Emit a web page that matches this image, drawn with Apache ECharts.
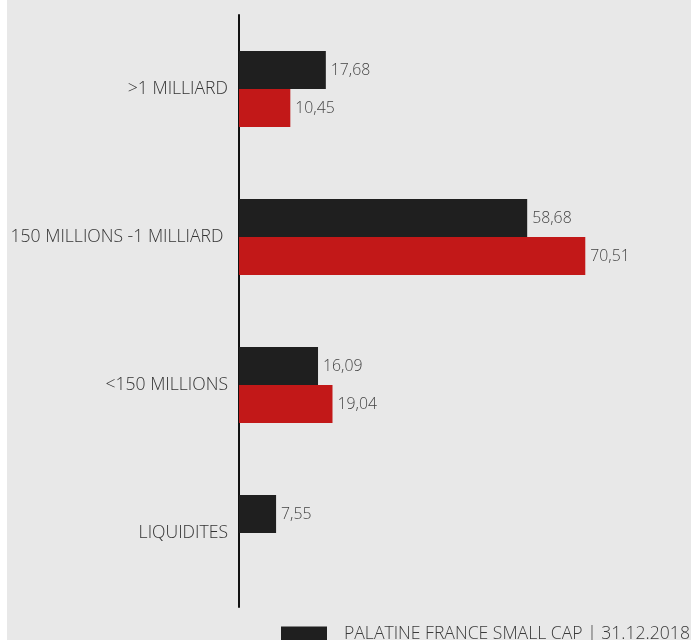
<!DOCTYPE html>
<html><head><meta charset="utf-8">
<script src="https://cdn.jsdelivr.net/npm/echarts@6/dist/echarts.min.js"></script>
<style>html,body{margin:0;padding:0;background:#fff;overflow:hidden;}#c{position:absolute;left:7px;top:0;width:684px;height:640px;}</style>
</head><body><div id="c"></div>
<script>
const categories = ['>1 MILLIARD', '150 MILLIONS -1 MILLIARD ', '<150 MILLIONS', 'LIQUIDITES'];
const fundName = 'PALATINE FRANCE SMALL CAP | 31.12.2018';
const fundValues = [17.68, 58.68, 16.09, 7.55];
const benchName = 'INDICE DE RÉFÉRENCE | 31.12.2018';
const benchValues = [10.45, 70.51, 19.04, null];

const chart = echarts.init(document.getElementById('c'));
const fmt = p => p.value == null ? '' : p.value.toFixed(2).replace('.', ',');
const font = '"Open Sans", sans-serif';
chart.setOption({
  backgroundColor: '#e8e8e8',
  animation: false,
  textStyle: {fontFamily: font},
  grid: {left: 232, right: 10, top: 15, bottom: 33, containLabel: false},
  legend: {
    left: 274, top: 625, width: 400, padding: 0,
    itemWidth: 46, itemHeight: 15, itemGap: 30,
    icon: 'rect',
    textStyle: {fontFamily: font, fontSize: 17.6, fontWeight: 300, color: '#3a3a3a', padding: [0, 0, 0, 12]},
    data: [fundName, benchName]
  },
  xAxis: {type: 'value', min: 0, max: 90, show: false},
  yAxis: {
    type: 'category', data: categories, inverse: true,
    axisLine: {show: true, lineStyle: {color: '#111', width: 2}},
    axisTick: {show: false},
    axisLabel: {fontFamily: font, fontSize: 17.6, fontWeight: 300, color: '#333', margin: 11}
  },
  series: [
    {name: fundName, type: 'bar', data: fundValues, barWidth: 38, barGap: '0%',
     itemStyle: {color: '#1f1f1f'},
     label: {show: true, position: 'right', distance: 5, formatter: fmt, fontFamily: font, fontSize: 15.8, fontWeight: 300, color: '#444'}},
    {name: benchName, type: 'bar', data: benchValues, barWidth: 38, barGap: '0%',
     itemStyle: {color: '#c21818'},
     label: {show: true, position: 'right', distance: 5, formatter: fmt, fontFamily: font, fontSize: 15.8, fontWeight: 300, color: '#444'}}
  ]
});
</script></body></html>
